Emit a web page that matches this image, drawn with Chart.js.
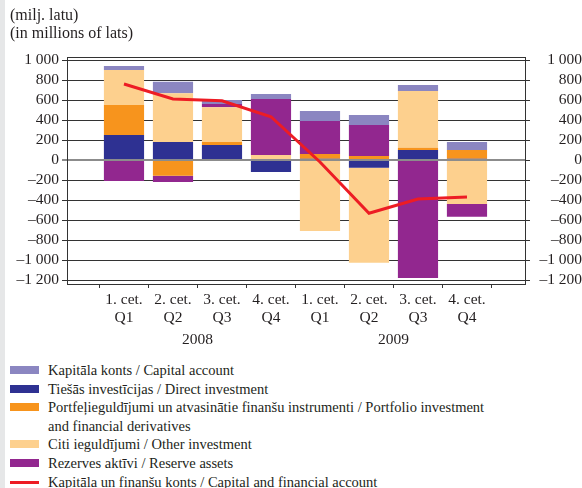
<!DOCTYPE html>
<html lang="lv">
<head>
  <meta charset="UTF-8">
  <title>Kapitāla un finanšu konts</title>
  <script src="https://cdn.jsdelivr.net/npm/chart.js"></script>
  <style>
    body { margin: 0; background: #fff; font-family: "Liberation Serif", "DejaVu Serif", serif; color: #231f20; }
    .wrap { position: relative; width: 582px; height: 488px; overflow: hidden; }
    .strip { position: absolute; left: 0; top: 0; width: 5px; height: 488px; background: #e6e7e8; }
    .unit { position: absolute; left: 10px; font-size: 16px; line-height: 18px; white-space: nowrap; }
    #grafiks { position: absolute; left: 0; top: 0; }
    #legenda { position: absolute; left: 10px; top: 361px; font-size: 14.5px; line-height: 18.6px; }
    .item { position: relative; padding-left: 38px; }
    .sw { position: absolute; left: 0; top: 5px; width: 29px; height: 8px; }
    .sw.line { top: 8px; height: 3px; }
  </style>
</head>
<body>
<div class="wrap">
  <div class="strip"></div>
  <canvas id="grafiks" width="582" height="355"></canvas>
  <div class="unit" style="top:6px">(milj. latu)</div>
  <div class="unit" style="top:24px">(in millions of lats)</div>
  <div id="legenda"></div>
</div>

<script>
  // Dati no attēla (milj. latu)
  const ceturksni = [["1. cet.", "Q1"], ["2. cet.", "Q2"], ["3. cet.", "Q3"], ["4. cet.", "Q4"],
                     ["1. cet.", "Q1"], ["2. cet.", "Q2"], ["3. cet.", "Q3"], ["4. cet.", "Q4"]];
  const gadi = ["2008", "2009"];
  const kapitalaKonts = [40, 116, 40, 50, 100, 100, 60, 80];
  const tiesasInvesticijas = [250, 180, 150, -120, 13, -77, 100, 13];
  const portfelis = [300, -157, 30, 10, 47, 40, 23, 87];
  const citiIeguldijumi = [350, 487, 347, 40, -710, -950, 567, -440];
  const rezervesAktivi = [-210, -63, 33, 560, 330, 310, -1180, -127];
  const finansuKonts = [760, 610, 593, 433, -20, -533, -390, -370];
  const yTicks = [-1200, -1000, -800, -600, -400, -200, 0, 200, 400, 600, 800, 1000];

  const teksts = "#231f20";
  const fonts = { family: "'Liberation Serif', serif", size: 15.5 };

  function punkti(vertibas) {
    return vertibas.map((v, i) => ({ x: i, y: v }));
  }

  function formatet(v) {
    const s = Math.abs(v).toString().replace(/\B(?=(\d{3})+(?!\d))/g, " ");
    return (v < 0 ? "\u2013" : "") + s;
  }

  // stabiņu secība no apakšas uz augšu
  const stabini = [
    { label: "Tiešās investīcijas / Direct investment", data: tiesasInvesticijas, color: "#2e3192" },
    { label: "Portfeļieguldījumi un atvasinātie finanšu instrumenti / Portfolio investment and financial derivatives", data: portfelis, color: "#f7941d" },
    { label: "Citi ieguldījumi / Other investment", data: citiIeguldijumi, color: "#fdd08e" },
    { label: "Rezerves aktīvi / Reserve assets", data: rezervesAktivi, color: "#92278f" },
    { label: "Kapitāla konts / Capital account", data: kapitalaKonts, color: "#8b86c1" }
  ];
  const linija = { label: "Kapitāla un finanšu konts / Capital and financial account", data: finansuKonts, color: "#ed1c24" };

  const datasets = stabini.map(s => ({
    type: "bar",
    label: s.label,
    data: punkti(s.data),
    backgroundColor: s.color,
    borderWidth: 0,
    categoryPercentage: 0.82,
    barPercentage: 1,
    order: 1
  }));
  datasets.push({
    type: "line",
    label: linija.label,
    data: punkti(linija.data),
    borderColor: linija.color,
    borderWidth: 3,
    pointRadius: 0,
    tension: 0,
    order: 0
  });

  // gadu uzraksti un rāmja augšējā mala
  const gaduPlugin = {
    id: "gadi",
    afterDraw(chart) {
      const ctx = chart.ctx;
      const x = chart.scales.x;
      const a = chart.chartArea;
      ctx.save();
      ctx.strokeStyle = "#333";
      ctx.lineWidth = 1;
      ctx.beginPath();
      ctx.moveTo(a.left, a.top + 0.5);
      ctx.lineTo(a.right, a.top + 0.5);
      ctx.stroke();
      ctx.fillStyle = teksts;
      ctx.font = "15.5px 'Liberation Serif', serif";
      ctx.textAlign = "center";
      ctx.textBaseline = "middle";
      gadi.forEach((g, i) => {
        ctx.fillText(g, x.getPixelForValue(i * 4 + 1.5), 340);
      });
      ctx.restore();
    }
  };

  function yAss(pozicija) {
    return {
      type: "linear",
      position: pozicija,
      stacked: true,
      min: -1240,
      max: 1030,
      afterBuildTicks: ax => { ax.ticks = yTicks.map(v => ({ value: v })); },
      afterFit: ax => { ax.width = pozicija === "left" ? 67 : 57; },
      border: { display: true, color: "#333", width: 1 },
      grid: pozicija === "left" ? {
        drawOnChartArea: true,
        drawTicks: true,
        tickLength: 5,
        color: ctx => ctx.tick && ctx.tick.value === 0 ? "#8c8c8c" : "#333",
        lineWidth: ctx => ctx.tick && ctx.tick.value === 0 ? 2 : 1
      } : { drawOnChartArea: false, drawTicks: true, tickLength: 5, color: "#333" },
      ticks: {
        color: teksts,
        font: fonts,
        padding: 3,
        autoSkip: false,
        crossAlign: pozicija === "left" ? "near" : "far",
        callback: v => formatet(v)
      }
    };
  }

  new Chart(document.getElementById("grafiks"), {
    data: { datasets: datasets },
    plugins: [gaduPlugin],
    options: {
      responsive: false,
      animation: false,
      layout: { padding: { top: 57, left: 0, right: 0, bottom: 0 } },
      plugins: { legend: { display: false }, tooltip: { enabled: false } },
      scales: {
        x: {
          type: "linear",
          stacked: true,
          offset: false,
          min: -1.163,
          max: 8.184,
          afterBuildTicks: ax => { ax.ticks = ceturksni.map((c, i) => ({ value: i })); },
          afterFit: ax => { ax.height = 355 - 284; },
          border: { display: true, color: "#333", width: 1 },
          grid: { drawOnChartArea: false, drawTicks: true, tickLength: 4, color: "#333" },
          ticks: {
            color: teksts,
            font: { family: fonts.family, size: 15.5, lineHeight: 1.22 },
            padding: 2,
            autoSkip: false,
            maxRotation: 0,
            callback: (v, i) => ceturksni[i]
          }
        },
        y: yAss("left"),
        y2: yAss("right")
      }
    }
  });

  // leģenda
  const legendasSeciba = [stabini[4], stabini[0], stabini[1], stabini[2], stabini[3]];
  const leg = document.getElementById("legenda");
  legendasSeciba.forEach(s => {
    const d = document.createElement("div");
    d.className = "item";
    d.innerHTML = '<span class="sw" style="background:' + s.color + '"></span>' + s.label.replace(" Portfolio investment and", " Portfolio investment<br>and");
    leg.appendChild(d);
  });
  const dl = document.createElement("div");
  dl.className = "item";
  dl.innerHTML = '<span class="sw line" style="background:' + linija.color + '"></span>' + linija.label;
  leg.appendChild(dl);
</script>
</body>
</html>
